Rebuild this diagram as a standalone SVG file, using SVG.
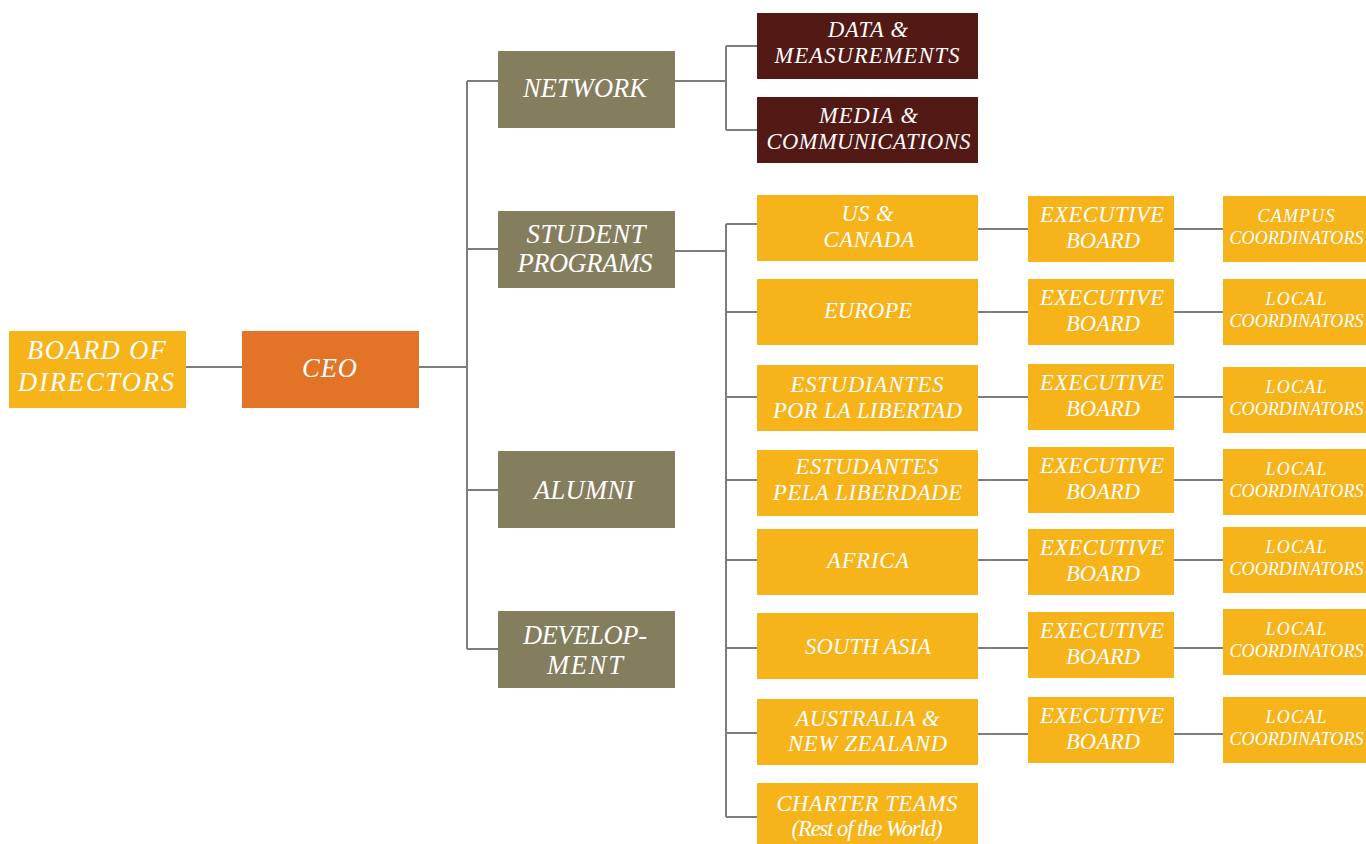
<svg xmlns="http://www.w3.org/2000/svg" width="1366" height="844" viewBox="0 0 1366 844">
<style>
.l{stroke:#7d7d7d;stroke-width:2;fill:none}
.y{fill:#F7B31A}
.o{fill:#847D5E}
.r{fill:#521915}
.c{fill:#E37326}
text{font-family:"Liberation Serif","Times New Roman",serif;font-style:italic;fill:#ffffff;text-anchor:middle}
.t26{font-size:26.5px}
.t22{font-size:22.5px}
.t21{font-size:22.5px}
.t17{font-size:18px}
</style>
<rect width="1366" height="844" fill="#ffffff"/>
<g id="connectors">
<path class="l" d="M186 367H242M419 367H467M467 81V649M467 81H498M467 249H498M467 490H498M467 649H498"/>
<path class="l" d="M675 81H726M726 46V130M726 46H757M726 130H757"/>
<path class="l" d="M675 251H726M726 224V817M726 224H757M726 312H757M726 397H757M726 480H757M726 560H757M726 648H757M726 733H757M726 817H757"/>
<path class="l" d="M978 229H1028M978 312H1028M978 397H1028M978 480H1028M978 560H1028M978 648H1028M978 734H1028"/>
<path class="l" d="M1174 229H1223M1174 312H1223M1174 397H1223M1174 480H1223M1174 560H1223M1174 648H1223M1174 734H1223"/>
</g>
<g id="board"><rect class="y" x="9" y="331" width="177" height="77"/><text class="t26" x="96.5" y="359" textLength="139" lengthAdjust="spacing">BOARD OF</text><text class="t26" x="96" y="391" textLength="156" lengthAdjust="spacing">DIRECTORS</text></g>
<g id="ceo"><rect class="c" x="242" y="331" width="177" height="77"/><text class="t26" x="329.5" y="377" textLength="55" lengthAdjust="spacing">CEO</text></g>
<g id="network"><rect class="o" x="498" y="51" width="177" height="77"/><text class="t26" x="585" y="97" textLength="124" lengthAdjust="spacing">NETWORK</text></g>
<g id="student-programs"><rect class="o" x="498" y="211" width="177" height="77"/><text class="t26" x="586" y="243" textLength="119" lengthAdjust="spacing">STUDENT</text><text class="t26" x="585" y="272" textLength="135" lengthAdjust="spacing">PROGRAMS</text></g>
<g id="alumni"><rect class="o" x="498" y="451" width="177" height="77"/><text class="t26" x="584" y="499" textLength="100" lengthAdjust="spacing">ALUMNI</text></g>
<g id="development"><rect class="o" x="498" y="611" width="177" height="77"/><text class="t26" x="585" y="644" textLength="124" lengthAdjust="spacing">DEVELOP-</text><text class="t26" x="585" y="674" textLength="76" lengthAdjust="spacing">MENT</text></g>
<g id="data"><rect class="r" x="757" y="13" width="221" height="66"/><text class="t22" x="868" y="37" textLength="80" lengthAdjust="spacing">DATA &amp;</text><text class="t22" x="867" y="63" textLength="185" lengthAdjust="spacing">MEASUREMENTS</text></g>
<g id="media"><rect class="r" x="757" y="97" width="221" height="66"/><text class="t22" x="868.5" y="123" textLength="99" lengthAdjust="spacing">MEDIA &amp;</text><text class="t22" x="868.5" y="149" textLength="204" lengthAdjust="spacing">COMMUNICATIONS</text></g>
<g id="us-canada"><rect class="y" x="757" y="195" width="221" height="66"/><text class="t22" x="867.5" y="221" textLength="52" lengthAdjust="spacing">US &amp;</text><text class="t22" x="869" y="247" textLength="91" lengthAdjust="spacing">CANADA</text></g>
<g id="europe"><rect class="y" x="757" y="279" width="221" height="66"/><text class="t22" x="868" y="318" textLength="88" lengthAdjust="spacing">EUROPE</text></g>
<g id="estudiantes"><rect class="y" x="757" y="365" width="221" height="66"/><text class="t22" x="867" y="392" textLength="153" lengthAdjust="spacing">ESTUDIANTES</text><text class="t22" x="867.5" y="418" textLength="189" lengthAdjust="spacing">POR LA LIBERTAD</text></g>
<g id="estudantes"><rect class="y" x="757" y="450" width="221" height="66"/><text class="t22" x="867" y="474" textLength="143" lengthAdjust="spacing">ESTUDANTES</text><text class="t22" x="867.5" y="500" textLength="189" lengthAdjust="spacing">PELA LIBERDADE</text></g>
<g id="africa"><rect class="y" x="757" y="529" width="221" height="66"/><text class="t22" x="868" y="568" textLength="82" lengthAdjust="spacing">AFRICA</text></g>
<g id="south-asia"><rect class="y" x="757" y="613" width="221" height="66"/><text class="t22" x="868" y="654" textLength="126" lengthAdjust="spacing">SOUTH ASIA</text></g>
<g id="australia"><rect class="y" x="757" y="699" width="221" height="66"/><text class="t22" x="867.5" y="726" textLength="144" lengthAdjust="spacing">AUSTRALIA &amp;</text><text class="t22" x="867.5" y="751" textLength="159" lengthAdjust="spacing">NEW ZEALAND</text></g>
<g id="charter"><rect class="y" x="757" y="783" width="221" height="61"/><text class="t22" x="867" y="811" textLength="181" lengthAdjust="spacing">CHARTER TEAMS</text><text class="t22" x="867" y="836" textLength="151" lengthAdjust="spacing">(Rest of the World)</text></g>
<g id="exec-1"><rect class="y" x="1028" y="196" width="146" height="66"/><text class="t21" x="1102" y="222" textLength="124" lengthAdjust="spacing">EXECUTIVE</text><text class="t21" x="1103" y="248" textLength="74" lengthAdjust="spacing">BOARD</text></g>
<g id="exec-2"><rect class="y" x="1028" y="279" width="146" height="66"/><text class="t21" x="1102" y="305" textLength="124" lengthAdjust="spacing">EXECUTIVE</text><text class="t21" x="1103" y="331" textLength="74" lengthAdjust="spacing">BOARD</text></g>
<g id="exec-3"><rect class="y" x="1028" y="364" width="146" height="66"/><text class="t21" x="1102" y="390" textLength="124" lengthAdjust="spacing">EXECUTIVE</text><text class="t21" x="1103" y="416" textLength="74" lengthAdjust="spacing">BOARD</text></g>
<g id="exec-4"><rect class="y" x="1028" y="447" width="146" height="66"/><text class="t21" x="1102" y="473" textLength="124" lengthAdjust="spacing">EXECUTIVE</text><text class="t21" x="1103" y="499" textLength="74" lengthAdjust="spacing">BOARD</text></g>
<g id="exec-5"><rect class="y" x="1028" y="529" width="146" height="66"/><text class="t21" x="1102" y="555" textLength="124" lengthAdjust="spacing">EXECUTIVE</text><text class="t21" x="1103" y="581" textLength="74" lengthAdjust="spacing">BOARD</text></g>
<g id="exec-6"><rect class="y" x="1028" y="612" width="146" height="66"/><text class="t21" x="1102" y="638" textLength="124" lengthAdjust="spacing">EXECUTIVE</text><text class="t21" x="1103" y="664" textLength="74" lengthAdjust="spacing">BOARD</text></g>
<g id="exec-7"><rect class="y" x="1028" y="697" width="146" height="66"/><text class="t21" x="1102" y="723" textLength="124" lengthAdjust="spacing">EXECUTIVE</text><text class="t21" x="1103" y="749" textLength="74" lengthAdjust="spacing">BOARD</text></g>
<g id="coord-1"><rect class="y" x="1223" y="196" width="143" height="66"/><text class="t17" x="1296" y="222" textLength="77" lengthAdjust="spacing">CAMPUS</text><text class="t17" x="1296.5" y="244" textLength="134" lengthAdjust="spacing">COORDINATORS</text></g>
<g id="coord-2"><rect class="y" x="1223" y="279" width="143" height="66"/><text class="t17" x="1296" y="305" textLength="61" lengthAdjust="spacing">LOCAL</text><text class="t17" x="1296.5" y="327" textLength="134" lengthAdjust="spacing">COORDINATORS</text></g>
<g id="coord-3"><rect class="y" x="1223" y="367" width="143" height="66"/><text class="t17" x="1296" y="393" textLength="61" lengthAdjust="spacing">LOCAL</text><text class="t17" x="1296.5" y="415" textLength="134" lengthAdjust="spacing">COORDINATORS</text></g>
<g id="coord-4"><rect class="y" x="1223" y="449" width="143" height="66"/><text class="t17" x="1296" y="475" textLength="61" lengthAdjust="spacing">LOCAL</text><text class="t17" x="1296.5" y="497" textLength="134" lengthAdjust="spacing">COORDINATORS</text></g>
<g id="coord-5"><rect class="y" x="1223" y="527" width="143" height="66"/><text class="t17" x="1296" y="553" textLength="61" lengthAdjust="spacing">LOCAL</text><text class="t17" x="1296.5" y="575" textLength="134" lengthAdjust="spacing">COORDINATORS</text></g>
<g id="coord-6"><rect class="y" x="1223" y="609" width="143" height="66"/><text class="t17" x="1296" y="635" textLength="61" lengthAdjust="spacing">LOCAL</text><text class="t17" x="1296.5" y="657" textLength="134" lengthAdjust="spacing">COORDINATORS</text></g>
<g id="coord-7"><rect class="y" x="1223" y="697" width="143" height="66"/><text class="t17" x="1296" y="723" textLength="61" lengthAdjust="spacing">LOCAL</text><text class="t17" x="1296.5" y="745" textLength="134" lengthAdjust="spacing">COORDINATORS</text></g>
</svg>
